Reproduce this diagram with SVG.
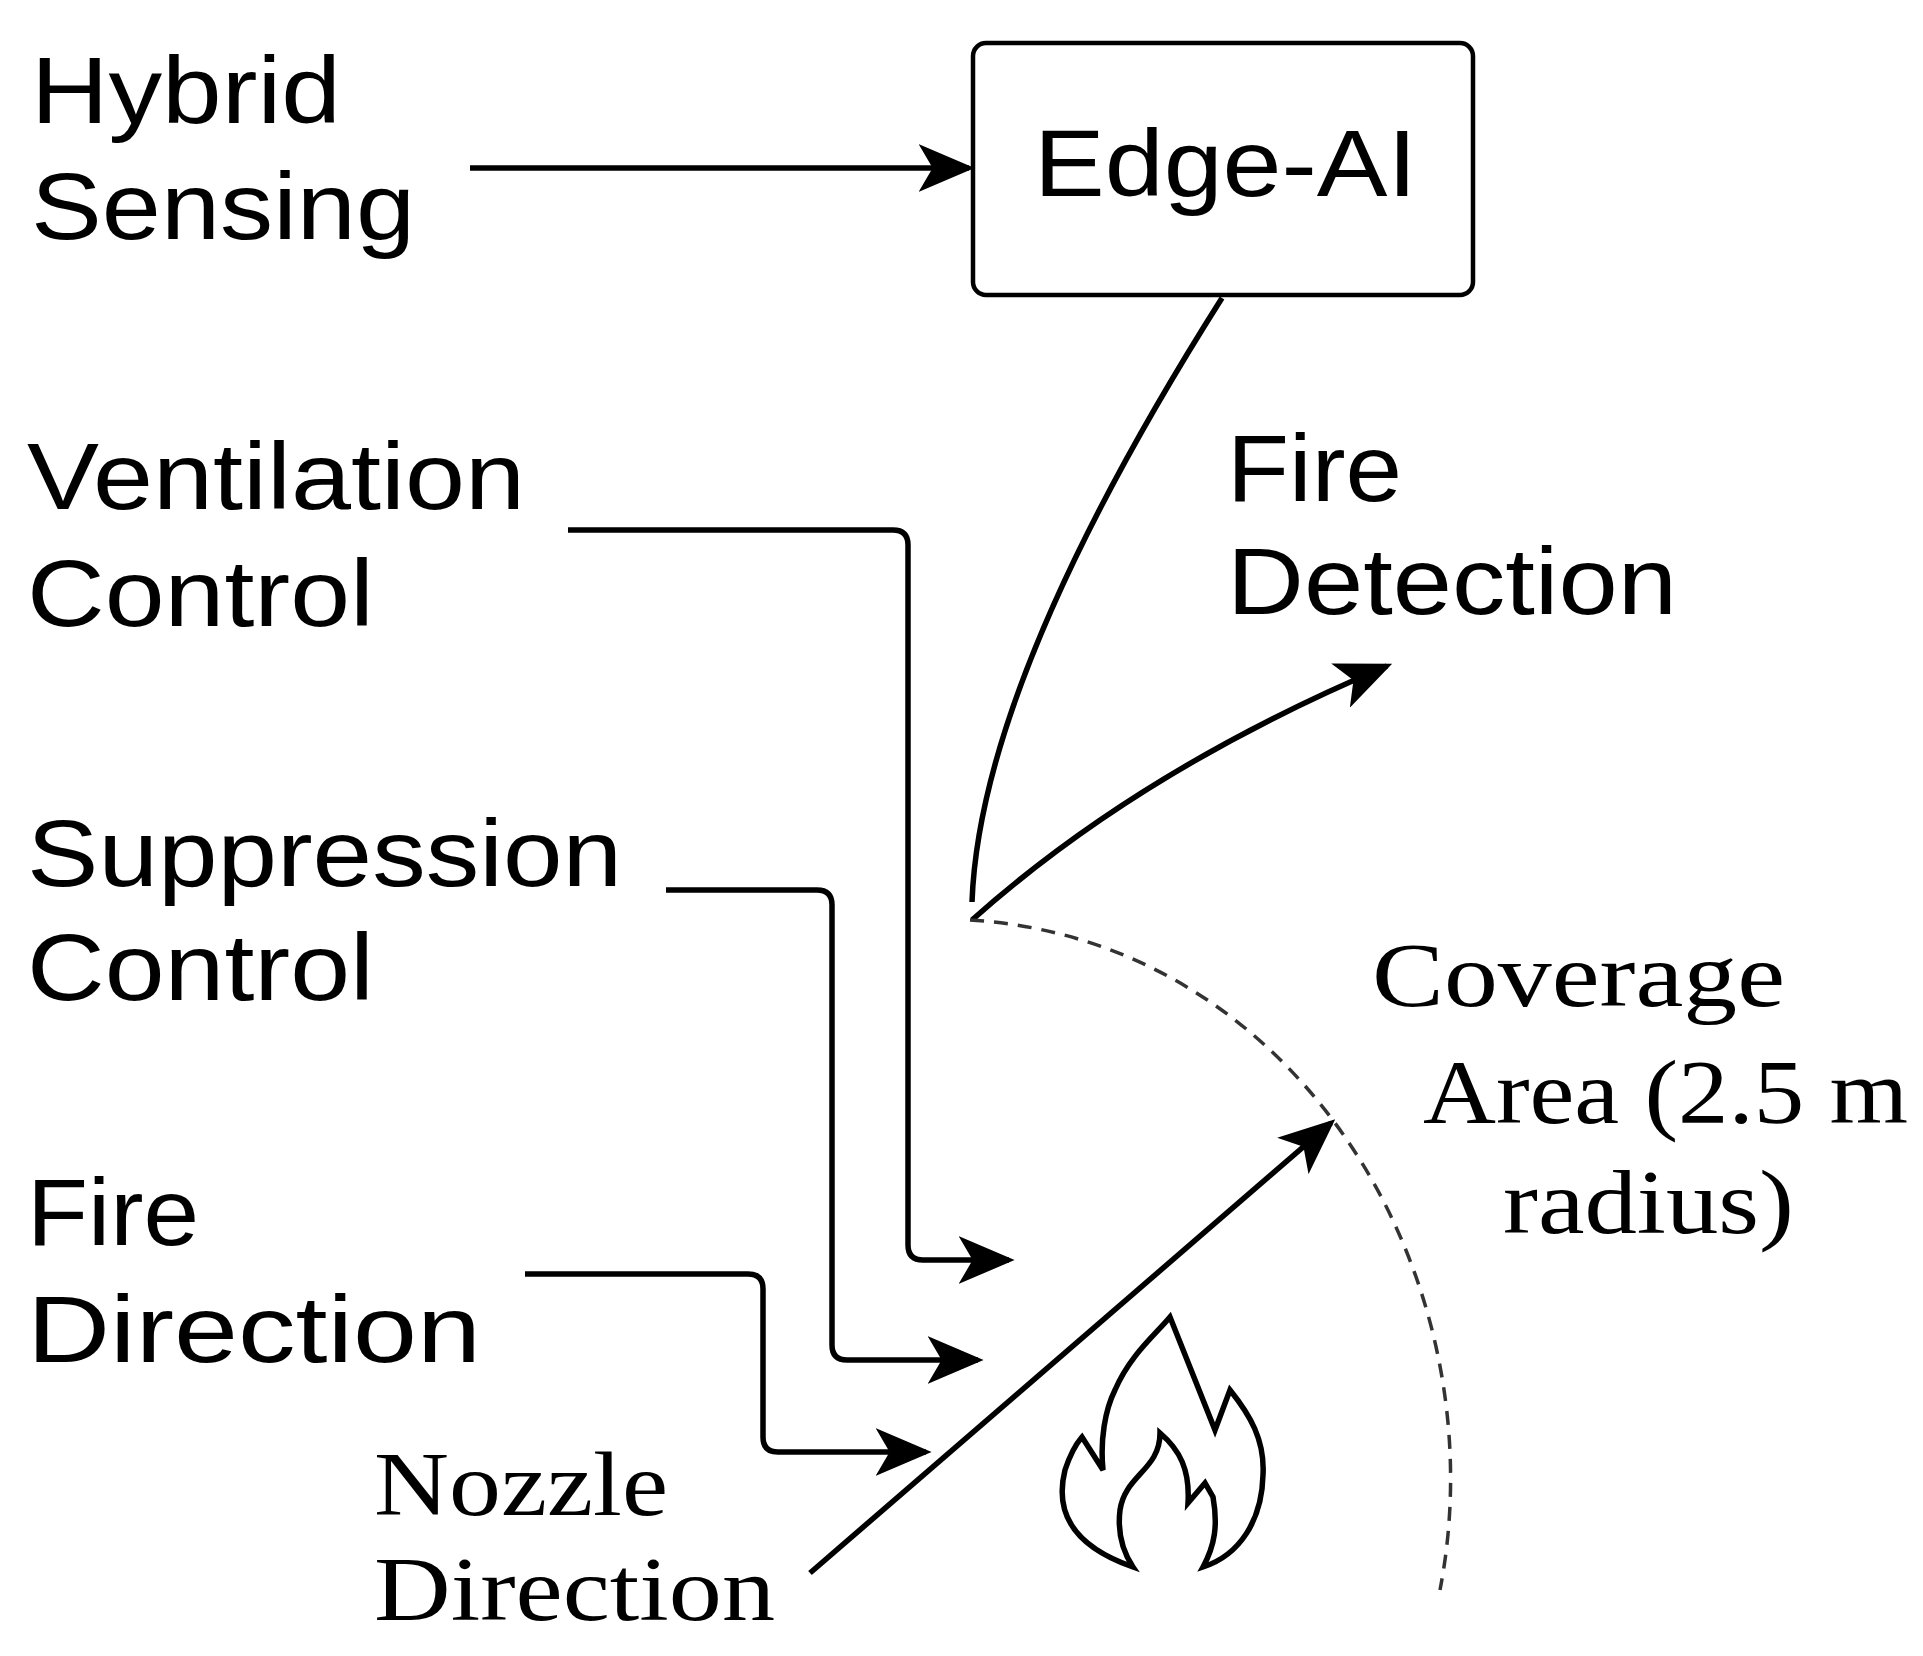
<svg xmlns="http://www.w3.org/2000/svg" width="1923" height="1656" viewBox="0 0 1923 1656">
<defs>
<style>
.s{font-family:"Liberation Sans",Arial,sans-serif;font-size:95px;fill:#000}
.r{font-family:"Liberation Serif","Times New Roman",serif;font-size:90px;fill:#000}
.c{fill:none;stroke:#000;stroke-width:5.5}
</style>
<marker id="a" viewBox="0 0 10 10" refX="9" refY="5" markerWidth="56" markerHeight="48" markerUnits="userSpaceOnUse" orient="auto" preserveAspectRatio="none"><path d="M0,0 L10,5 L0,10 L2.5,5 z" fill="#000"/></marker>
</defs>
<rect width="1923" height="1656" fill="#fff"/>
<g id="edge-ai"><rect x="973" y="43" width="500" height="252" rx="13" fill="#fff" stroke="#000" stroke-width="4.5"/><text class="s" x="1034" y="196" textLength="383" lengthAdjust="spacingAndGlyphs">Edge-AI</text></g>
<g id="hybrid"><text class="s" x="31" y="123" textLength="310" lengthAdjust="spacingAndGlyphs">Hybrid</text><text class="s" x="31" y="239" textLength="384" lengthAdjust="spacingAndGlyphs">Sensing</text></g>
<g id="ventilation"><text class="s" x="27" y="509" textLength="498" lengthAdjust="spacingAndGlyphs">Ventilation</text><text class="s" x="27" y="626" textLength="347" lengthAdjust="spacingAndGlyphs">Control</text></g>
<g id="suppression"><text class="s" x="27" y="886" textLength="595" lengthAdjust="spacingAndGlyphs">Suppression</text><text class="s" x="27" y="1000" textLength="347" lengthAdjust="spacingAndGlyphs">Control</text></g>
<g id="firedir"><text class="s" x="27" y="1245" textLength="172" lengthAdjust="spacingAndGlyphs">Fire</text><text class="s" x="27" y="1362" textLength="454" lengthAdjust="spacingAndGlyphs">Direction</text></g>
<g id="firedet"><text class="s" x="1227" y="501" textLength="175" lengthAdjust="spacingAndGlyphs">Fire</text><text class="s" x="1227" y="614" textLength="450" lengthAdjust="spacingAndGlyphs">Detection</text></g>
<g id="coverage"><text class="r" x="1372" y="1006" textLength="413" lengthAdjust="spacingAndGlyphs">Coverage</text><text class="r" x="1423" y="1123" textLength="485" lengthAdjust="spacingAndGlyphs">Area (2.5 m</text><text class="r" x="1503" y="1233" textLength="291" lengthAdjust="spacingAndGlyphs">radius)</text></g>
<g id="nozzle"><text class="r" x="374" y="1515" textLength="294" lengthAdjust="spacingAndGlyphs">Nozzle</text><text class="r" x="374" y="1620" textLength="401" lengthAdjust="spacingAndGlyphs">Direction</text></g>
<g id="flame"><path class="c" d="M1133,1567 C1070,1545 1055,1510 1065,1470 C1070,1455 1075,1445 1082,1437 L1103,1470 C1100,1440 1105,1410 1115,1390 C1130,1355 1155,1335 1170,1317 L1215,1430 L1230,1390 C1250,1415 1265,1440 1263,1475 C1262,1520 1240,1555 1203,1567 C1215,1545 1218,1525 1213,1497 L1205,1483 L1188,1503 C1190,1470 1180,1450 1160,1433 C1160,1470 1125,1475 1120,1510 C1117,1535 1125,1555 1133,1567 Z"/></g>
<g id="connectors">
<line class="c" x1="470" y1="168" x2="969" y2="168" marker-end="url(#a)"/>
<path class="c" d="M568,530 H893 Q908,530 908,545 V1245 Q908,1260 923,1260 H1009" marker-end="url(#a)"/>
<path class="c" d="M666,890 H817 Q832,890 832,905 V1345 Q832,1360 847,1360 H978" marker-end="url(#a)"/>
<path class="c" d="M525,1274 H748 Q763,1274 763,1289 V1437 Q763,1452 778,1452 H926" marker-end="url(#a)"/>
<line class="c" x1="810" y1="1573" x2="1331" y2="1123" marker-end="url(#a)"/>
<path class="c" d="M1222,298 Q980,680 972,902"/>
<path class="c" d="M972,920 Q1140,770 1387,666" marker-end="url(#a)"/>
<path fill="none" stroke="#333" stroke-width="3.5" stroke-dasharray="14,10" d="M970,920 C1300,940 1500,1280 1440,1590"/>
</g>
</svg>
